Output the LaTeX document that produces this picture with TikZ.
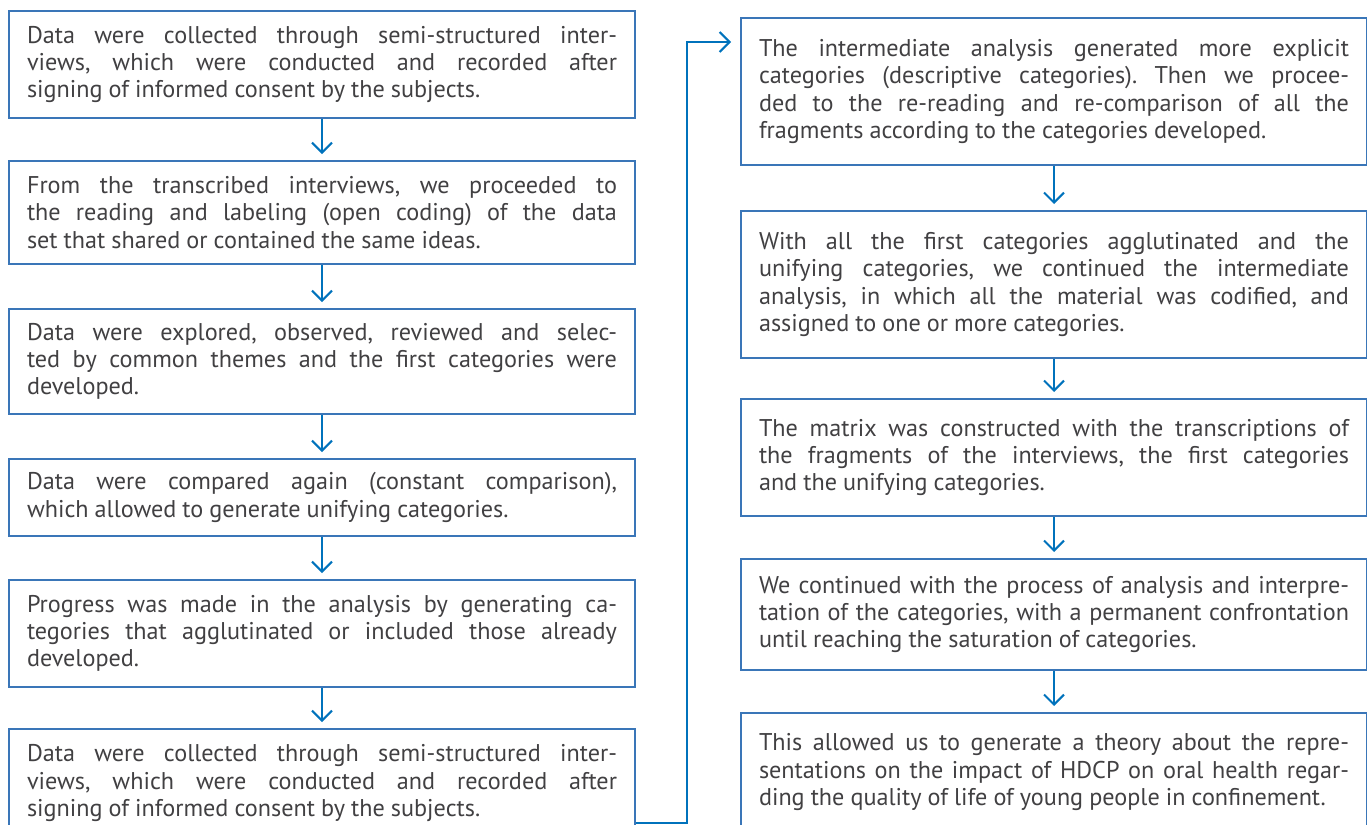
\documentclass[tikz,border=0pt]{standalone}
\usepackage{fontspec}
\setmainfont{PT Sans}
\usetikzlibrary{arrows.meta}
\definecolor{boxblue}{RGB}{58,118,184}
\definecolor{arrowblue}{RGB}{0,114,188}
\definecolor{textgray}{RGB}{65,64,66}
\tolerance=9999
\hyphenpenalty=10000
\frenchspacing
\newcommand\stepfont{\fontsize{12.1}{13.6}\selectfont\spaceskip=0.25em plus 0.4em minus 0.12em\relax}

\begin{document}
\begin{tikzpicture}[x=0.5pt,y=-0.5pt]
  \useasboundingbox (0,0) rectangle (1367,825);

  \path
    coordinate (lone)    at (8,10)
    coordinate (ltwo)    at (8,160)
    coordinate (lthree)  at (8,308)
    coordinate (lfour)   at (8,458)
    coordinate (lfive)   at (8,579)
    coordinate (lsix)    at (8,728)
    coordinate (rone)    at (740,17)
    coordinate (rtwo)    at (740,210)
    coordinate (rthree)  at (740,398)
    coordinate (rfour)   at (740,558)
    coordinate (rfive)   at (740,712)
    coordinate (jogbot)  at (687,823)
    coordinate (jogtop)  at (687,42)
    ;

  \tikzset{stepstyle/.style = {draw=boxblue, line width=1pt, shape=rectangle, anchor=north west,
      text width=295pt, inner xsep=9pt, inner ysep=0pt, align=justify, text=textgray,
      font=\stepfont}}

  % Left column
  \node [stepstyle, minimum height=53.5pt] (Lone) at (lone) {Data were collected through semi-structured inter-\linebreak views, which were conducted and recorded after\linebreak signing of informed consent by the subjects.};
  \node [stepstyle, minimum height=51.5pt] (Ltwo) at (ltwo) {From the transcribed interviews, we proceeded to\linebreak the reading and labeling (open coding) of the data\linebreak set that shared or contained the same ideas.};
  \node [stepstyle, minimum height=52.5pt] (Lthree) at (lthree) {Data were explored, observed, reviewed and selec-\linebreak ted by common themes and the first categories were\linebreak developed.};
  \node [stepstyle, minimum height=38.5pt] (Lfour) at (lfour) {Data were compared again (constant comparison),\linebreak which allowed to generate unifying categories.};
  \node [stepstyle, minimum height=53.5pt] (Lfive) at (lfive) {Progress was made in the analysis by generating ca-\linebreak tegories that agglutinated or included those already\linebreak developed.};
  \node [stepstyle, minimum height=54pt] (Lsix) at (lsix) {Data were collected through semi-structured inter-\linebreak views, which were conducted and recorded after\linebreak signing of informed consent by the subjects.};

  % Right column
  \node [stepstyle, minimum height=73.5pt] (Rone) at (rone) {The intermediate analysis generated more explicit\linebreak categories (descriptive categories). Then we procee-\linebreak ded to the re-reading and re-comparison of all the\linebreak fragments according to the categories developed.};
  \node [stepstyle, minimum height=73.5pt] (Rtwo) at (rtwo) {With all the first categories agglutinated and the\linebreak unifying categories, we continued the intermediate\linebreak analysis, in which all the material was codified, and\linebreak assigned to one or more categories.};
  \node [stepstyle, minimum height=58.5pt] (Rthree) at (rthree) {The matrix was constructed with the transcriptions of\linebreak the fragments of the interviews, the first categories\linebreak and the unifying categories.};
  \node [stepstyle, minimum height=55.5pt] (Rfour) at (rfour) {We continued with the process of analysis and interpre-\linebreak tation of the categories, with a permanent confrontation\linebreak until reaching the saturation of categories.};
  \node [stepstyle, minimum height=59pt] (Rfive) at (rfive) {This allowed us to generate a theory about the repre-\linebreak sentations on the impact of HDCP on oral health regar-\linebreak ding the quality of life of young people in confinement.};

  % Connecting arrows
  \tikzset{arrowstyle/.style = {draw=arrowblue, line width=1pt, -{Straight Barb[length=5pt,width=10pt]}, shorten >=3pt}}

  \path [arrowstyle] (Lone.south) -> (Ltwo.north);
  \path [arrowstyle] (Ltwo.south) -> (Lthree.north);
  \path [arrowstyle] (Lthree.south) -> (Lfour.north);
  \path [arrowstyle] (Lfour.south) -> (Lfive.north);
  \path [arrowstyle] (Lfive.south) -> (Lsix.north);

  \path [arrowstyle] (Rone.south) -> (Rtwo.north);
  \path [arrowstyle] (Rtwo.south) -> (Rthree.north);
  \path [arrowstyle] (Rthree.south) -> (Rfour.north);
  \path [arrowstyle] (Rfour.south) -> (Rfive.north);

  % Column jump
  \path [arrowstyle, shorten >=4.5pt] (Lsix.east |- jogbot) -- (jogbot) -- (jogtop) -- (jogtop -| Rone.west);

\end{tikzpicture}
\end{document}
